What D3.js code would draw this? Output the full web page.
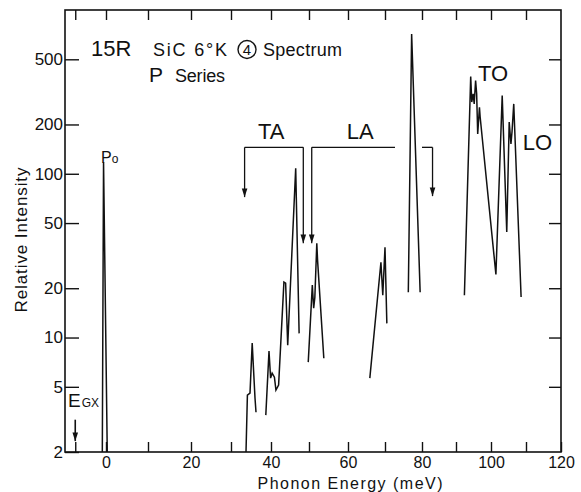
<!DOCTYPE html>
<html>
<head>
<meta charset="utf-8">
<script src="https://cdn.jsdelivr.net/npm/d3@7"></script>
<style>
  html, body { margin: 0; padding: 0; background: #fff; }
  svg { display: block; }
  text { font-family: "Liberation Sans", Arial, sans-serif; fill: #111; }
</style>
</head>
<body>
<svg id="chart" width="581" height="492"></svg>
<script>
// ---------------- DATA ----------------
// x-axis (phonon energy, meV) tick values and labels
const xTickValues = [0, 10, 20, 30, 40, 50, 60, 70, 80, 90, 100, 110, 120];
const xTickLabels = [0, 20, 40, 60, 80, 100, 120];
// y-axis (relative intensity, log) tick values
const yTickValues = [2, 5, 10, 20, 50, 100, 200, 500];
const yDomain = [2, 1000];
const xDomainStops = [-10, 0, 10, 20, 30, 40, 50, 60, 70, 80, 90, 100, 110, 120];

// E_GX marker position (meV)
const egxEnergy = -7.5;

// Spectrum segments (energy in meV, relative intensity)
const p0Energy    = [-0.9, -0.6, 0.3];
const p0Intensity = [2, 118, 2];

const ta1Energy    = [33.75, 34.1, 34.75, 35.3, 35.6, 36.0, 36.25];
const ta1Intensity = [2, 4.45, 4.58, 9.24, 6.6, 4.27, 3.5];

const ta2Energy    = [38.7, 39.5, 39.9, 40.3, 40.9, 41.3, 42.0, 43.4, 43.85, 44.4, 46.5, 47.4];
const ta2Intensity = [3.36, 8.26, 5.65, 6.06, 5.73, 4.78, 5.12, 21.8, 21.5, 8.98, 108, 10.6];

const la1Energy    = [49.8, 50.85, 51.2, 51.5, 52.0, 52.2, 53.8];
const la1Intensity = [7.08, 20.9, 15.1, 17.6, 37.6, 29.6, 7.48];

const la2Energy    = [65.9, 68.9, 69.4, 70.0, 70.5];
const la2Intensity = [5.65, 28.8, 18.1, 35.6, 12.2];

const peak77Energy    = [76.3, 77.2, 79.5];
const peak77Intensity = [18.9, 714, 18.9];

const toloEnergy    = [92.4, 94.2, 94.5, 94.9, 95.2, 95.6, 95.9, 96.2, 96.7, 96.9, 101.4, 103.2, 104.5, 105.2, 105.7, 106.0, 106.5, 108.6];
const toloIntensity = [18.1, 392, 274, 308, 267, 371, 308, 175, 255, 222, 24.3, 300, 44.1, 207, 152, 180, 267, 17.7];

// Bracket annotations (energy meV, intensity)
const taBracketEnergy = [33.4, 48.5];
const taBracketLevel = 145;
const taBracketTips = [72, 37.6];
const laBracketEnergy = [50.7, 72.7, 80.0, 83.1];
const laBracketLevel = 145;
const laBracketTips = [37.6, 73];

// Labels
const bandLabels = ["TA", "LA", "TO", "LO"];
const bandLabelEnergy = [36.75, 59.7, 96.3, 109.1];
const bandLabelIntensity = [164, 164, 371, 139];

// ---------------- LAYOUT ----------------
const svg = d3.select("#chart");
const plotLeft = 65, plotRight = 561, plotTop = 10, plotBottom = 452;

// The scanned axis is slightly non-uniform; calibrate to the printed tick positions
const xRangeStops = [65, 106, 148, 191, 231, 271, 309, 348, 385, 422, 456, 491, 526, 561];
const x = d3.scaleLinear().domain(xDomainStops).range(xRangeStops);
const y = d3.scaleLog().domain(yDomain).range([plotBottom, plotTop]);

svg.append("rect").attr("width", 581).attr("height", 492).attr("fill", "#fff");

const defs = svg.append("defs");
defs.append("marker")
  .attr("id", "arrow")
  .attr("viewBox", "0 -4 10 8")
  .attr("refX", 10).attr("refY", 0)
  .attr("markerUnits", "userSpaceOnUse")
  .attr("markerWidth", 9).attr("markerHeight", 7)
  .attr("orient", "auto")
  .append("path").attr("d", "M0,-3.2L10,0L0,3.2Z").attr("fill", "#111");

// Axes
const styleAxis = (g, fs) => {
  g.select(".domain").remove();
  g.selectAll(".tick line").attr("stroke", "#111").attr("stroke-width", 1.4);
  g.selectAll(".tick text").attr("font-size", fs).attr("fill", "#111")
    .attr("font-family", "'Liberation Sans', Arial, sans-serif");
};

svg.append("g").attr("transform", `translate(0,${plotBottom})`)
  .call(d3.axisBottom(x).tickValues([egxEnergy].concat(xTickValues))
    .tickSizeInner(-10).tickSizeOuter(0).tickPadding(5)
    .tickFormat(d => xTickLabels.includes(d) ? String(d) : ""))
  .call(styleAxis, 16);

svg.append("g").attr("transform", `translate(0,${plotTop})`)
  .call(d3.axisTop(x).tickValues([egxEnergy].concat(xTickValues.slice(0, -1)))
    .tickSizeInner(-10).tickSizeOuter(0).tickFormat(""))
  .call(styleAxis, 16);

svg.append("g").attr("transform", `translate(${plotLeft},0)`)
  .call(d3.axisLeft(y).tickValues(yTickValues)
    .tickSizeInner(-14).tickSizeOuter(0).tickPadding(2)
    .tickFormat(d3.format("d")))
  .call(styleAxis, 17);

svg.append("g").attr("transform", `translate(${plotRight},0)`)
  .call(d3.axisRight(y).tickValues(yTickValues.slice(1))
    .tickSizeInner(-12).tickSizeOuter(0).tickFormat(""))
  .call(styleAxis, 17);

// Frame
svg.append("rect")
  .attr("x", plotLeft).attr("y", plotTop)
  .attr("width", plotRight - plotLeft).attr("height", plotBottom - plotTop)
  .attr("fill", "none").attr("stroke", "#111").attr("stroke-width", 1.6);

// Spectrum
const line = d3.line().x(d => x(d[0])).y(d => y(d[1]));
const segments = [
  [p0Energy, p0Intensity],
  [ta1Energy, ta1Intensity],
  [ta2Energy, ta2Intensity],
  [la1Energy, la1Intensity],
  [la2Energy, la2Intensity],
  [peak77Energy, peak77Intensity],
  [toloEnergy, toloIntensity]
];
svg.append("g").selectAll("path")
  .data(segments.map(s => d3.zip(s[0], s[1])))
  .join("path")
  .attr("d", line)
  .attr("fill", "none")
  .attr("stroke", "#111")
  .attr("stroke-width", 1.5)
  .attr("stroke-linejoin", "miter");

// Brackets
const br = svg.append("g").attr("fill", "none").attr("stroke", "#111").attr("stroke-width", 1.3);
// TA bracket
br.append("path").attr("d", line([[taBracketEnergy[0], taBracketLevel], [taBracketEnergy[1], taBracketLevel]]));
br.append("path").attr("marker-end", "url(#arrow)")
  .attr("d", line([[taBracketEnergy[0], taBracketLevel], [taBracketEnergy[0], taBracketTips[0]]]));
br.append("path").attr("marker-end", "url(#arrow)")
  .attr("d", line([[taBracketEnergy[1], taBracketLevel], [taBracketEnergy[1], taBracketTips[1]]]));
// LA bracket (broken where the 77 meV line passes)
br.append("path").attr("d", line([[laBracketEnergy[0], laBracketLevel], [laBracketEnergy[1], laBracketLevel]]));
br.append("path").attr("d", line([[laBracketEnergy[2], laBracketLevel], [laBracketEnergy[3], laBracketLevel]]));
br.append("path").attr("marker-end", "url(#arrow)")
  .attr("d", line([[laBracketEnergy[0], laBracketLevel], [laBracketEnergy[0], laBracketTips[0]]]));
br.append("path").attr("marker-end", "url(#arrow)")
  .attr("d", line([[laBracketEnergy[3], laBracketLevel], [laBracketEnergy[3], laBracketTips[1]]]));

// E_GX arrow
br.append("path").attr("marker-end", "url(#arrow)").attr("stroke-width", 1.6)
  .attr("d", line([[egxEnergy, 3.15], [egxEnergy, 2.33]]));

// Band labels
svg.append("g").selectAll("text")
  .data(bandLabels)
  .join("text")
  .attr("x", (d, i) => x(bandLabelEnergy[i]))
  .attr("y", (d, i) => y(bandLabelIntensity[i]))
  .attr("font-size", 22)
  .text(d => d);

// P0 label
const p0 = svg.append("text").attr("x", x(-1.2)).attr("y", y(116)).attr("font-size", 16);
p0.append("tspan").text("P");
p0.append("tspan").attr("font-size", 12).attr("dy", 0).text("o");

// E_GX label
const egx = svg.append("text").attr("x", 68).attr("y", 407).attr("font-size", 19);
egx.append("tspan").text("E");
egx.append("tspan").attr("font-size", 12).attr("dx", 1).text("GX");

// Title
svg.append("text").attr("x", 91).attr("y", 56).attr("font-size", 22).text("15R");
svg.append("text").attr("x", 153).attr("y", 56).attr("font-size", 18)
  .attr("textLength", 74).attr("lengthAdjust", "spacing")
  .text("SiC 6°K");
svg.append("circle").attr("cx", 247).attr("cy", 49.5).attr("r", 9)
  .attr("fill", "none").attr("stroke", "#111").attr("stroke-width", 1.4);
svg.append("text").attr("x", 247).attr("y", 55).attr("font-size", 15)
  .attr("text-anchor", "middle").text("4");
svg.append("text").attr("x", 263).attr("y", 56).attr("font-size", 18)
  .attr("textLength", 79).attr("lengthAdjust", "spacing")
  .text("Spectrum");
svg.append("text").attr("x", 149).attr("y", 82).attr("font-size", 21).text("P");
svg.append("text").attr("x", 175).attr("y", 82).attr("font-size", 18)
  .attr("textLength", 50).attr("lengthAdjust", "spacing").text("Series");

// Axis titles
svg.append("text")
  .attr("transform", "translate(27,240) rotate(-90)")
  .attr("text-anchor", "middle")
  .attr("font-size", 17)
  .attr("textLength", 145).attr("lengthAdjust", "spacing")
  .text("Relative Intensity");
svg.append("text")
  .attr("x", 350).attr("y", 489)
  .attr("text-anchor", "middle")
  .attr("font-size", 16)
  .attr("textLength", 185).attr("lengthAdjust", "spacing")
  .text("Phonon Energy (meV)");
</script>
</body>
</html>
